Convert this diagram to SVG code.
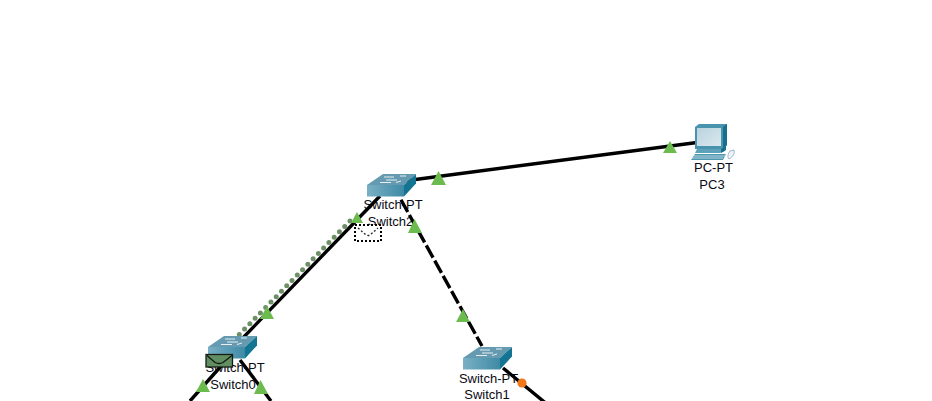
<svg xmlns="http://www.w3.org/2000/svg" width="932" height="401" viewBox="0 0 932 401">
<style>
.lbl{font-family:"Liberation Sans",Arial,sans-serif;font-size:13px;fill:#0a0a14;text-anchor:middle}
.wire{stroke:#000;stroke-width:3.4;fill:none}
.dash{stroke-dasharray:14 3.4;stroke-dashoffset:15.4}
.tri{fill:#6cbb4e}
.dots{stroke:#6d8f66;stroke-width:5;stroke-linecap:round;stroke-dasharray:0 7.55;fill:none}
</style>
<defs>
<linearGradient id="front" x1="0" y1="0" x2="1" y2="0"><stop offset="0" stop-color="#7ab0c5"/><stop offset="1" stop-color="#3f8aa6"/></linearGradient>
<linearGradient id="screen" x1="0" y1="0" x2="1" y2="1"><stop offset="0" stop-color="#b9d3df"/><stop offset="1" stop-color="#dbe8ee"/></linearGradient>
<g id="sw">
<polygon points="16,-11 49,-11 37,0 0,0" fill="#659ab0"/>
<rect x="0" y="0" width="37" height="11.500" fill="url(#front)"/>
<polygon points="37,0 49,-11 49,-1.500 37,11.500" fill="#137591"/>
<path d="M13,-2.500H24M29,-2.500L34,-4M17,-8H27M33,-9L39,-9M19,-5H30" stroke="#e6f0f4" stroke-width="1" fill="none"/>
</g>
<g id="env">
<rect x="0" y="0" width="26.500" height="12.500" fill="#628f62" stroke="#141c14" stroke-width="1.300"/>
<path d="M1,1L9,8Q13,10 17,8L26,1" fill="none" stroke="#101810" stroke-width="1.300"/>
</g>
</defs>
<rect width="932" height="401" fill="#fff"/>
<g id="node-switch2"><text class="lbl" x="393" y="209">Switch-PT</text><text class="lbl" x="390.500" y="226">Switch2</text></g>
<g id="node-switch0"><text class="lbl" x="235" y="372">Switch-PT</text><text class="lbl" x="233" y="389">Switch0</text></g>
<g id="node-switch1"><text class="lbl" x="488.500" y="383">Switch-PT</text><text class="lbl" x="487" y="399">Switch1</text></g>
<g id="node-pc3"><text class="lbl" x="713.500" y="172">PC-PT</text><text class="lbl" x="712" y="189">PC3</text></g>
<g id="connectors">
<line class="wire" x1="404" y1="181" x2="697" y2="142.500"/>
<line class="wire" x1="380" y1="196" x2="237" y2="344"/>
<line class="wire dash" x1="400" y1="198" x2="482" y2="346"/>
<line class="wire" x1="222" y1="365" x2="190" y2="401"/>
<line class="wire" x1="240" y1="360" x2="271" y2="401"/>
<line class="wire" x1="503" y1="368" x2="548" y2="405"/>
<line class="dots" x1="350" y1="221" x2="233" y2="341"/>
<g id="link-markers">
<polygon class="tri" points="438.500,171 431,185 446,185"/>
<polygon class="tri" points="670,141 663,153 677,153"/>
<polygon class="tri" points="414.500,219 408,233 422,233"/>
<polygon class="tri" points="463,309 456,322 470,322"/>
<polygon class="tri" points="357,212 351,223 363,223"/>
<polygon class="tri" points="267,306 260,319 274,319"/>
<polygon class="tri" points="203,379 196,392 210,392"/>
<polygon class="tri" points="260.500,380 254,394 268,394"/>
<circle cx="522" cy="383" r="4.600" fill="#f07818"/>
</g>
</g>
<use href="#sw" x="367" y="185"/>
<use href="#sw" x="208" y="347"/>
<use href="#sw" x="463" y="358"/>
<g id="pc-icon">
<polygon points="695,127 699,124 727,124 727,145 723,149 695,149" fill="#4a93ad"/>
<polygon points="723,127 727,124 727,145 723,149" fill="#14708c"/>
<rect x="697" y="128" width="24" height="18" fill="url(#screen)"/>
<polygon points="697,149 725,149 725,151 720,153 695,153" fill="#5da2ba"/>
<polygon points="721,149 726,146 726,150 721,153" fill="#14708c"/>
<polygon points="695,154 726,154 723,160 691,160" fill="#4f97b0"/>
<path d="M692,158H723M694,156H725" stroke="#cfe3ea" stroke-width="0.800"/>
<path d="M729,159C733,157 735,153 734,150L730,151C728,154 727,157 729,159Z" fill="#eef4f6" stroke="#7fa9ba" stroke-width="0.800"/>
</g>
<g id="packet-dotted">
<rect x="355" y="225" width="26" height="16" fill="#fff" stroke="#000" stroke-width="2" stroke-dasharray="2 2"/>
<path d="M358,228L366,235Q368,236 370,235L378,228" fill="none" stroke="#222" stroke-width="1.300" stroke-dasharray="2 2"/>
</g>
<use href="#env" x="206" y="354.500"/>
</svg>
